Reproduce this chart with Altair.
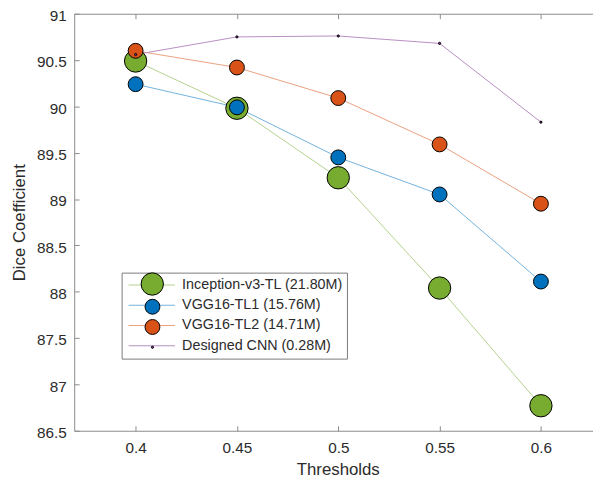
import altair as alt
import pandas as pd

# ---- data ----
thresholds = [0.4, 0.45, 0.5, 0.55, 0.6]
series_names = ["Inception-v3-TL (21.80M)", "VGG16-TL1 (15.76M)",
                "VGG16-TL2 (14.71M)", "Designed CNN (0.28M)"]
inception = [90.49, 89.98, 89.23, 88.04, 86.77]
vgg_tl1 = [90.24, 89.99, 89.45, 89.05, 88.11]
vgg_tl2 = [90.60, 90.42, 90.09, 89.59, 88.95]
designed = [90.56, 90.75, 90.76, 90.68, 89.83]
x_ticks = [0.4, 0.45, 0.5, 0.55, 0.6]
y_ticks = [86.5, 87, 87.5, 88, 88.5, 89, 89.5, 90, 90.5, 91]

rows = []
for name, vals in zip(series_names, [inception, vgg_tl1, vgg_tl2, designed]):
    for t, v in zip(thresholds, vals):
        rows.append({"threshold": t, "dice": v, "series": name})
df = pd.DataFrame(rows)
big = series_names[:1]
small = series_names[1:]

# ---- styles ----
marker_colors = ["#77AC30", "#0072BD", "#D95319", "#7E2F8E"]
line_colors = ["#b4d18d", "#73b1db", "#eaa181", "#b88dc1"]
marker_sizes = [511, 227, 227, 5]
axis_color = "#8a8a8a"
text_color = "#2b2b2b"
FONT = "Liberation Sans"

x_scale = alt.Scale(domain=[0.3697, 0.6257], nice=False, zero=False)
y_scale = alt.Scale(domain=[86.5, 91], nice=False, zero=False)
fill_scale = alt.Scale(domain=series_names, range=marker_colors)
size_scale = alt.Scale(type="ordinal", domain=series_names, range=marker_sizes)

def tick_axis(orient, values):
    return alt.Axis(orient=orient, values=values, offset=-5, ticks=True, tickSize=5,
                    tickColor=axis_color, tickWidth=1, domain=False, labels=False,
                    grid=False, title=None)

x_main = alt.Axis(orient="bottom", values=x_ticks, format="~g", domain=True,
                  domainColor=axis_color, domainWidth=1, ticks=False, tickSize=0,
                  labelPadding=10, labelFontSize=15.5, labelColor=text_color,
                  labelFont=FONT, grid=False, title="Thresholds", titleFont=FONT,
                  titleFontSize=17, titleFontWeight="normal", titleColor=text_color,
                  titleX=266.7, titleY=39, titleBaseline="middle", titleAlign="center")
y_main = alt.Axis(orient="left", values=y_ticks, format="~g", domain=True,
                  domainColor=axis_color, domainWidth=1, ticks=False, tickSize=0,
                  labelPadding=8, labelOffset=2, labelFontSize=15.5,
                  labelColor=text_color, labelFont=FONT, grid=False,
                  title="Dice Coefficient", titleFont=FONT,
                  titleFontSize=17, titleFontWeight="normal", titleColor=text_color,
                  titleX=-55, titleY=211, titleAngle=270, titleBaseline="middle",
                  titleAlign="center")

LEG_X = 48
# background legend: frame, line samples and the labels
line_legend = alt.Legend(title=None, orient="none", legendX=LEG_X, legendY=262,
                         symbolType="stroke", symbolSize=2209, symbolStrokeWidth=1,
                         clipHeight=17, rowPadding=3.5, padding=4, symbolOffset=2.5,
                         labelOffset=6.7, labelFontSize=14.5, labelColor=text_color,
                         labelFont=FONT, labelLimit=400, strokeColor="#7a7a7a",
                         fillColor="white", zindex=0)

def marker_legend(values, y, sym_offset, clip=None, row_pad=None):
    kw = {}
    if clip is not None:
        kw["clipHeight"] = clip
    if row_pad is not None:
        kw["rowPadding"] = row_pad
    return alt.Legend(title=None, orient="none", legendX=LEG_X, legendY=y,
                      values=values, symbolType="circle",
                      symbolStrokeWidth=1, symbolOpacity=1, padding=4,
                      symbolOffset=sym_offset, labelOffset=0, labelExpr="''",
                      labelFontSize=14.5, labelFont=FONT, zindex=1, **kw)

leg_big = marker_legend(big, 257.5, 15)
leg_small = marker_legend(small, 283, 18.7, clip=19, row_pad=1.5)

lines = alt.Chart(df).mark_line(strokeWidth=1).encode(
    x=alt.X("threshold:Q", scale=x_scale, axis=x_main),
    y=alt.Y("dice:Q", scale=y_scale, axis=y_main),
    stroke=alt.Stroke("series:N", sort=series_names,
                      scale=alt.Scale(range=line_colors), legend=line_legend),
)

def point_layer(names, legend, x_axis, y_axis):
    return alt.Chart(df).transform_filter(
        alt.FieldOneOfPredicate(field="series", oneOf=names)
    ).mark_point(filled=True, stroke="black", strokeWidth=1, opacity=1).encode(
        x=alt.X("threshold:Q", scale=x_scale, axis=x_axis),
        y=alt.Y("dice:Q", scale=y_scale, axis=y_axis),
        fill=alt.Fill("series:N", scale=fill_scale, legend=legend),
        size=alt.Size("series:N", scale=size_scale, legend=legend),
    )

points_big = point_layer(big, leg_big, tick_axis("bottom", x_ticks),
                         tick_axis("left", y_ticks))
points_small = point_layer(small, leg_small, None, None)

top_domain = alt.Chart(df).mark_point(opacity=0).encode(
    x=alt.X("threshold:Q", scale=x_scale,
            axis=alt.Axis(orient="top", domain=True, domainColor=axis_color,
                          domainWidth=1, ticks=False, labels=False, grid=False,
                          title=None)),
    y=alt.Y("dice:Q", scale=y_scale, axis=None),
)

top_ticks = alt.Chart(df).mark_point(opacity=0).encode(
    x=alt.X("threshold:Q", scale=x_scale, axis=tick_axis("top", x_ticks)),
    y=alt.Y("dice:Q", scale=y_scale, axis=None),
)

chart = alt.layer(lines, points_big, points_small, top_domain, top_ticks).resolve_axis(
    x="independent", y="independent"
).resolve_legend(
    fill="independent", size="independent"
).properties(
    width=525, height=422,
    padding={"left": 67, "top": 3, "right": 0, "bottom": 45},
    autosize="none",
).configure_view(stroke=None)

chart.save("out.html", embed_options={"renderer": "svg", "actions": False})
